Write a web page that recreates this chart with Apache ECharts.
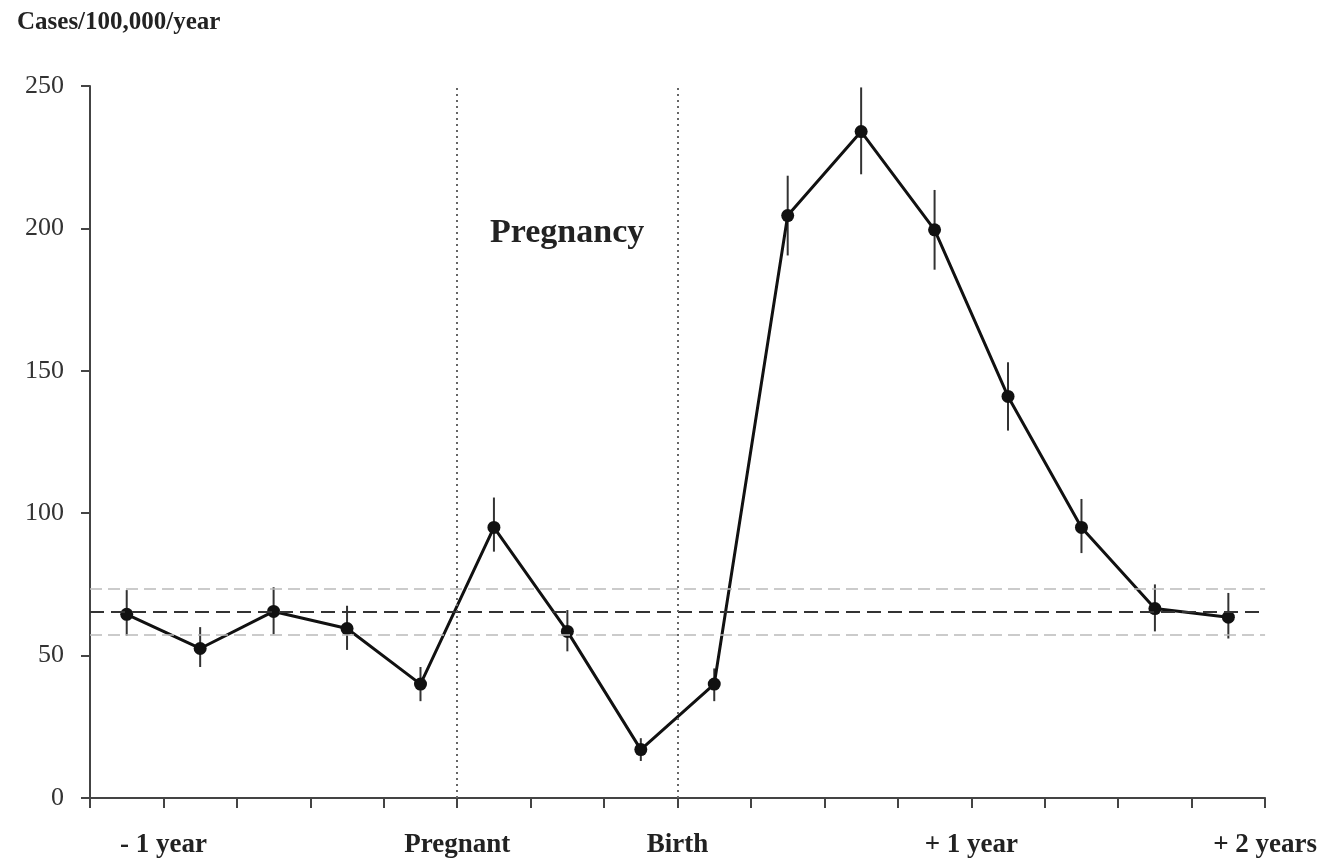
<!DOCTYPE html>
<html>
<head>
<meta charset="utf-8">
<script src="https://cdn.jsdelivr.net/npm/echarts@6/dist/echarts.min.js"></script>
<style>html,body{margin:0;padding:0;background:#fff}#c{width:1320px;height:864px}</style>
</head>
<body>
<div id="c"></div>
<script>
// Data (quarter-year periods, points at mid-period)
const xPos = [0.5,1.5,2.5,3.5,4.5,5.5,6.5,7.5,8.5,9.5,10.5,11.5,12.5,13.5,14.5,15.5];
const values = [64.5,52.5,65.5,59.5,40,95,58.5,17,40,204.5,234,199.5,141,95,66.5,63.5];
const errLow = [57,46,57.5,52,34,86.5,51.5,13,34,190.5,219,185.5,129,86,58.5,56];
const errHigh = [73,60,74,67.5,46,105.5,66,21,45.5,218.5,249.5,213.5,153,105,75,72];
const tickLabels = {1:'- 1 year',5:'Pregnant',8:'Birth',12:'+ 1 year',16:'+ 2 years'};
const yTicks = [0,50,100,150,200,250];
const refMean = 65.4, refLow = 57.2, refHigh = 73.6;
const eventLines = [5, 8];

const serif = '"Liberation Serif","DejaVu Serif",serif';
const chart = echarts.init(document.getElementById('c'));
chart.setOption({
  animation: false,
  backgroundColor: '#fff',
  title: {
    text: 'Cases/100,000/year', left: 12, top: 5,
    textStyle: {fontFamily: serif, fontWeight: 'bold', fontSize: 25, color: '#222'}
  },
  graphic: [{
    type: 'text', left: 490, top: 216,
    style: {text: 'Pregnancy', font: 'bold 34px ' + serif, fill: '#222'}
  }],
  grid: {left: 90, right: 54, top: 86, bottom: 66},
  xAxis: {
    type: 'value', min: 0, max: 16, interval: 1,
    axisLine: {lineStyle: {color: '#444', width: 2}},
    axisTick: {show: true, length: 10, lineStyle: {color: '#444', width: 2}},
    splitLine: {show: false},
    axisLabel: {
      formatter: v => tickLabels[v] || '',
      fontFamily: serif, fontWeight: 'bold', fontSize: 27, color: '#222', margin: 34
    }
  },
  yAxis: {
    type: 'value', min: 0, max: 250, interval: 50,
    axisLine: {show: true, lineStyle: {color: '#444', width: 2}},
    axisTick: {show: true, length: 9, lineStyle: {color: '#444', width: 2}},
    splitLine: {show: false},
    axisLabel: {
      formatter: v => yTicks.includes(v) ? String(v) : '',
      fontFamily: serif, fontSize: 26, color: '#333', margin: 26
    }
  },
  series: [
    {
      type: 'custom',
      data: xPos.map((x, i) => [x, errLow[i], errHigh[i]]),
      renderItem: (params, api) => {
        const a = api.coord([api.value(0), api.value(1)]);
        const b = api.coord([api.value(0), api.value(2)]);
        return {type: 'line', shape: {x1: a[0], y1: a[1], x2: b[0], y2: b[1]},
          style: {stroke: '#333', lineWidth: 2}};
      },
      z: 2
    },
    {
      type: 'line',
      data: xPos.map((x, i) => [x, values[i]]),
      symbol: 'circle', symbolSize: 13,
      lineStyle: {color: '#111', width: 3},
      itemStyle: {color: '#111'},
      z: 3,
      markLine: {
        silent: true, symbol: 'none', label: {show: false},
        data: [
          {yAxis: refHigh, lineStyle: {type: [12, 6], color: '#bbb', width: 1.5}},
          {yAxis: refLow, lineStyle: {type: [12, 6], color: '#bbb', width: 1.5}},
          {yAxis: refMean, lineStyle: {type: [14, 7], color: '#333', width: 2}},
          ...eventLines.map(x => ({xAxis: x, lineStyle: {type: [2, 4], color: '#666', width: 2}}))
        ]
      }
    }
  ]
});
</script>
</body>
</html>
